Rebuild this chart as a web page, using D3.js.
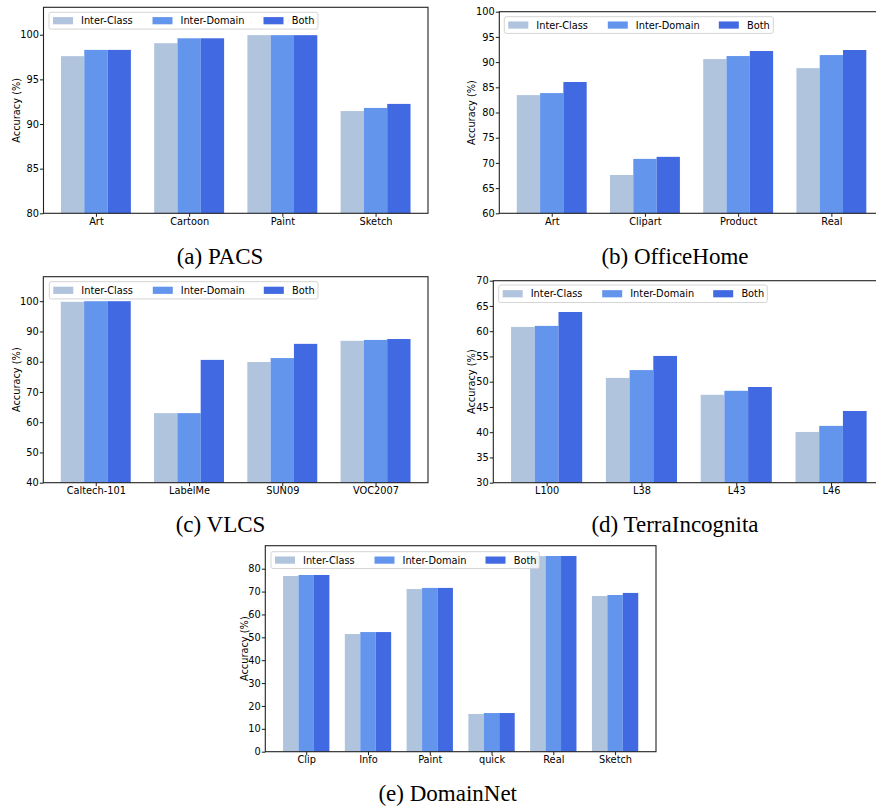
<!DOCTYPE html>
<html>
<head>
<meta charset="utf-8">
<script src="https://cdn.jsdelivr.net/npm/d3@7"></script>
<style>
  html, body { margin: 0; padding: 0; background: #fff; }
  svg { display: block; }
</style>
</head>
<body>
<svg id="chart" width="876" height="808"></svg>
<script>
// ---------------- DATA ----------------
const seriesNames = ["Inter-Class", "Inter-Domain", "Both"];
const seriesColors = ["#B0C4DE", "#6495ED", "#4169E1"];

const pacsCategories = ["Art", "Cartoon", "Paint", "Sketch"];
const pacsInterClass = [97.6, 99.05, 99.95, 91.45];
const pacsInterDomain = [98.3, 99.6, 99.95, 91.8];
const pacsBoth = [98.3, 99.6, 99.95, 92.25];
const pacsTicks = [80, 85, 90, 95, 100];

const officeCategories = ["Art", "Clipart", "Product", "Real"];
const officeInterClass = [83.45, 67.6, 90.6, 88.8];
const officeInterDomain = [83.85, 70.8, 91.2, 91.4];
const officeBoth = [86.05, 71.2, 92.2, 92.4];
const officeTicks = [60, 65, 70, 75, 80, 85, 90, 95, 100];

const vlcsCategories = ["Caltech-101", "LabelMe", "SUN09", "VOC2007"];
const vlcsInterClass = [99.8, 63.0, 79.9, 86.9];
const vlcsInterDomain = [100.0, 63.0, 81.2, 87.2];
const vlcsBoth = [100.0, 80.6, 85.9, 87.5];
const vlcsTicks = [40, 50, 60, 70, 80, 90, 100];

const terraCategories = ["L100", "L38", "L43", "L46"];
const terraInterClass = [60.85, 50.75, 47.4, 40.05];
const terraInterDomain = [61.05, 52.3, 48.2, 41.25];
const terraBoth = [63.8, 55.1, 48.95, 44.2];
const terraTicks = [30, 35, 40, 45, 50, 55, 60, 65, 70];

const domainCategories = ["Clip", "Info", "Paint", "quick", "Real", "Sketch"];
const domainInterClass = [76.8, 51.45, 71.1, 16.5, 85.5, 68.05];
const domainInterDomain = [77.25, 52.3, 71.6, 16.9, 85.55, 68.5];
const domainBoth = [77.25, 52.3, 71.6, 16.9, 85.55, 69.4];
const domainTicks = [0, 10, 20, 30, 40, 50, 60, 70, 80];

const captions = ["(a) PACS", "(b) OfficeHome", "(c) VLCS", "(d) TerraIncognita", "(e) DomainNet"];

// ---------------- LAYOUT ----------------
const panels = [
  { cats: pacsCategories, series: [pacsInterClass, pacsInterDomain, pacsBoth], ticks: pacsTicks,
    yDomain: [80, 103.07], left: 43.5, right: 428, top: 7.3, bottom: 213.3,
    legend: { x: 49, y: 12.3, w: 269, h: 16.8 }, ylabelX: 16.7,
    caption: { x: 220, y: 263.5 } },
  { cats: officeCategories, series: [officeInterClass, officeInterDomain, officeBoth], ticks: officeTicks,
    yDomain: [60, 100], left: 499.3, right: 883.8, top: 11.7, bottom: 213.3,
    legend: { x: 504.3, y: 16.7, w: 269, h: 16.7 }, ylabelX: 471.7,
    caption: { x: 675, y: 263.5 } },
  { cats: vlcsCategories, series: [vlcsInterClass, vlcsInterDomain, vlcsBoth], ticks: vlcsTicks,
    yDomain: [40, 108.1], left: 43.3, right: 428, top: 276.7, bottom: 482.7,
    legend: { x: 49.3, y: 281.7, w: 268.7, h: 17.2 }, ylabelX: 16.7,
    caption: { x: 220.5, y: 532 } },
  { cats: terraCategories, series: [terraInterClass, terraInterDomain, terraBoth], ticks: terraTicks,
    yDomain: [30, 70], left: 493.3, right: 884.4, top: 280.7, bottom: 482.7,
    legend: { x: 498.7, y: 285, w: 268.6, h: 17.5 }, ylabelX: 471.7,
    caption: { x: 675, y: 532 } },
  { cats: domainCategories, series: [domainInterClass, domainInterDomain, domainBoth], ticks: domainTicks,
    yDomain: [0, 90.05], left: 265.3, right: 656, top: 545.7, bottom: 751.7,
    legend: { x: 271, y: 551.7, w: 268.3, h: 16.8 }, ylabelX: 244,
    caption: { x: 447.7, y: 801 } }
];

const FONT = "'DejaVu Sans', sans-serif";
const FS = 9.8;
const svg = d3.select("#chart");

panels.forEach((p, pi) => {
  const n = p.cats.length;
  const m = 0.05 * (n - 1 + 0.75);
  const x = d3.scaleLinear().domain([-0.375 - m, n - 1 + 0.375 + m]).range([p.left, p.right]);
  const y = d3.scaleLinear().domain(p.yDomain).range([p.bottom, p.top]);
  const g = svg.append("g");
  const bw = 0.25;

  // bars
  p.series.forEach((vals, si) => {
    g.append("g").selectAll("rect").data(vals).join("rect")
      .attr("x", (d, i) => x(i + (si - 1) * bw - bw / 2))
      .attr("width", (d, i) => x(i + (si - 1) * bw + bw / 2) - x(i + (si - 1) * bw - bw / 2))
      .attr("y", d => y(d))
      .attr("height", d => y(p.yDomain[0]) - y(d))
      .attr("fill", seriesColors[si]);
  });

  // axes
  const yAxis = d3.axisLeft(y).tickValues(p.ticks).tickSize(3.5).tickPadding(1).tickFormat(d3.format("d"));
  const ya = g.append("g").attr("transform", `translate(${p.left},0)`).call(yAxis);
  const xAxis = d3.axisBottom(x).tickValues(d3.range(n)).tickSize(3.5).tickPadding(1).tickFormat(i => p.cats[i]);
  const xa = g.append("g").attr("transform", `translate(0,${p.bottom})`).call(xAxis);
  [ya, xa].forEach(a => {
    a.select(".domain").remove();
    a.selectAll("line").attr("stroke", "#000").attr("stroke-width", 0.9);
    a.selectAll("text").attr("fill", "#000").style("font-family", FONT).style("font-size", FS + "px");
  });

  // frame
  g.append("rect")
    .attr("x", p.left).attr("y", p.top)
    .attr("width", p.right - p.left).attr("height", p.bottom - p.top)
    .attr("fill", "none").attr("stroke", "#222").attr("stroke-width", 1.1);

  // y label
  g.append("text")
    .attr("transform", `translate(${p.ylabelX},${(p.top + p.bottom) / 2}) rotate(-90)`)
    .attr("text-anchor", "middle").attr("dominant-baseline", "central")
    .style("font-family", FONT).style("font-size", FS + "px").attr("fill", "#000")
    .text("Accuracy (%)");

  // legend
  const L = p.legend;
  const lg = g.append("g").attr("transform", `translate(${L.x},${L.y})`);
  lg.append("rect").attr("width", L.w).attr("height", L.h).attr("rx", 2)
    .attr("fill", "#fff").attr("fill-opacity", 0.8)
    .attr("stroke", "#d0d0d0").attr("stroke-width", 0.9);
  const patchX = [4, 103.5, 214.5];
  const textX = [32, 131.5, 242.7];
  seriesNames.forEach((s, si) => {
    lg.append("rect").attr("x", patchX[si]).attr("y", L.h / 2 - 3.6)
      .attr("width", 20).attr("height", 7.2).attr("fill", seriesColors[si]);
    lg.append("text").attr("x", textX[si]).attr("y", L.h / 2)
      .attr("dominant-baseline", "central")
      .style("font-family", FONT).style("font-size", FS + "px").attr("fill", "#000")
      .text(s);
  });

  // caption
  svg.append("text").attr("x", p.caption.x).attr("y", p.caption.y)
    .attr("text-anchor", "middle")
    .style("font-family", "'Liberation Serif', 'Times New Roman', serif").style("font-size", "23px")
    .attr("fill", "#000")
    .text(captions[pi]);
});
</script>
</body>
</html>
